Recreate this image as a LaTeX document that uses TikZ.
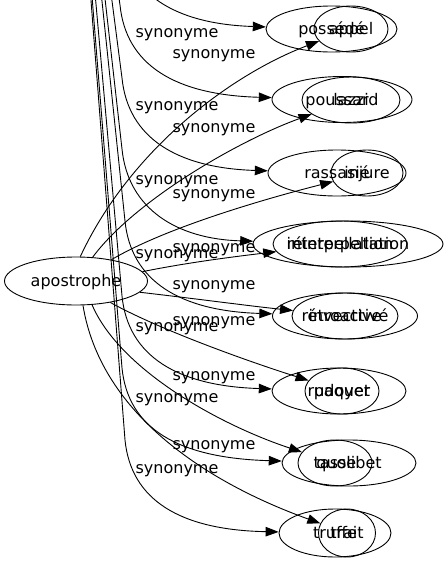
\documentclass[tikz,border=0pt]{standalone}
\usepackage{fontspec}
\setmainfont{DejaVu Sans}
\usetikzlibrary{shapes.geometric, arrows.meta}
\newcommand{\mot}[1]{\makebox[0pt]{#1}}

\begin{document}
\begin{tikzpicture}[x=1pt, y=-1pt,
  word/.style={draw, ellipse, line width=0.9pt, inner sep=0pt, minimum height=46pt,
    font=\fontsize{16pt}{19pt}\selectfont, text height=13pt, text depth=2pt},
  syn/.style={anchor=base, inner sep=0pt, font=\fontsize{16pt}{19pt}\selectfont},
  synarrow/.style={line width=0.9pt, -{Triangle[length=13pt, width=9.5pt]}}]
  \useasboundingbox (0,0) rectangle (445,563);
  \clip (0,0) rectangle (445,563);

  % source word, and the word above the picture
  \node[word, minimum width=143pt, minimum height=48pt] (apos) at (76,281) {\mot{apostrophe}};
  \coordinate (hub) at (60,-400);

  % pairs of words on the right
  \node[word, minimum width=131pt] (p1a) at (331.5,29) {\mot{possédé}};
  \node[word, minimum width=74pt] (p1b) at (351,29) {\mot{appel}};
  \node[word, minimum width=140pt] (p2a) at (342,99.5) {\mot{poussard}};
  \node[word, minimum width=98pt] (p2b) at (351,100) {\mot{lazzi}};
  \node[word, minimum width=138pt] (p3a) at (337,173) {\mot{rassasié}};
  \node[word, minimum width=72pt] (p3b) at (367,173) {\mot{injure}};
  \node[word, minimum width=190pt] (p4a) at (348,244) {\mot{réinterpellation}};
  \node[word, minimum width=134pt] (p4b) at (340,244) {\mot{interpellation}};
  \node[word, minimum width=145pt] (p5a) at (345,316) {\mot{rétroactivé}};
  \node[word, minimum width=106pt] (p5b) at (345,316) {\mot{invective}};
  \node[word, minimum width=134pt] (p6a) at (339,391) {\mot{rudoyer}};
  \node[word, minimum width=74pt] (p6b) at (342,391) {\mot{paquet}};
  \node[word, minimum width=134pt] (p7a) at (349,463) {\mot{quolibet}};
  \node[word, minimum width=74pt] (p7b) at (335,463) {\mot{tasse}};
  \node[word, minimum width=112pt, minimum height=48pt] (p8a) at (335,533) {\mot{truffe}};
  \node[word, minimum width=57pt, minimum height=48pt] (p8b) at (347,533) {\mot{trait}};

  % edges coming down from above
  \draw[synarrow] (hub) -- (120,-66) .. controls (126,-6) and (175,24) .. (p1a);
  \draw[synarrow] (hub) -- (120,5) .. controls (126,65) and (175,95) .. (p2a);
  \draw[synarrow] (hub) -- (122,78) .. controls (128,138) and (177,168) .. (p3a);
  \draw[synarrow] (hub) -- (122,149) .. controls (128,209) and (177,239) .. (p4a);
  \draw[synarrow] (hub) -- (125,221) .. controls (131,281) and (180,311) .. (p5a);
  \draw[synarrow] (hub) -- (122,296) .. controls (128,356) and (177,386) .. (p6a);
  \draw[synarrow] (hub) -- (122,368) .. controls (128,428) and (177,458) .. (p7a);
  \draw[synarrow] (hub) -- (125,440) .. controls (131,500) and (180,530) .. (p8a);

  % edges from apostrophe
  \draw[synarrow] (apos.80) .. controls (130,150) and (230,75) .. (p1b);
  \draw[synarrow] (apos.55) .. controls (135,200) and (240,140) .. (p2b);
  \draw[synarrow] (apos.31) .. controls (170,225) and (280,195) .. (p3b);
  \draw[synarrow] (apos.8) .. controls (190,262) and (240,256) .. (p4b);
  \draw[synarrow] (apos.-10) .. controls (190,298) and (250,306) .. (p5b);
  \draw[synarrow] (apos.-32) .. controls (160,330) and (250,362) .. (p6b);
  \draw[synarrow] (apos.-56) .. controls (120,370) and (220,425) .. (p7b);
  \draw[synarrow] (apos.-74) .. controls (100,410) and (200,480) .. (p8b);

  % edge labels
  \node[syn] (l2a) at (177,37.5) {synonyme};
  \node[syn] (l3a) at (177,110.5) {synonyme};
  \node[syn] (l4a) at (177,184.5) {synonyme};
  \node[syn] (l5a) at (177,258.5) {synonyme};
  \node[syn] (l6a) at (177,331.5) {synonyme};
  \node[syn] (l7a) at (177,402.5) {synonyme};
  \node[syn] (l8a) at (177,473.5) {synonyme};
  \node[syn] (l1b) at (214,58.5) {synonyme};
  \node[syn] (l2b) at (214,132.5) {synonyme};
  \node[syn] (l3b) at (214,198.5) {synonyme};
  \node[syn] (l4b) at (214,252.5) {synonyme};
  \node[syn] (l5b) at (214,289.5) {synonyme};
  \node[syn] (l6b) at (214,325.5) {synonyme};
  \node[syn] (l7b) at (214,380.5) {synonyme};
  \node[syn] (l8b) at (214,449.5) {synonyme};
\end{tikzpicture}
\end{document}
